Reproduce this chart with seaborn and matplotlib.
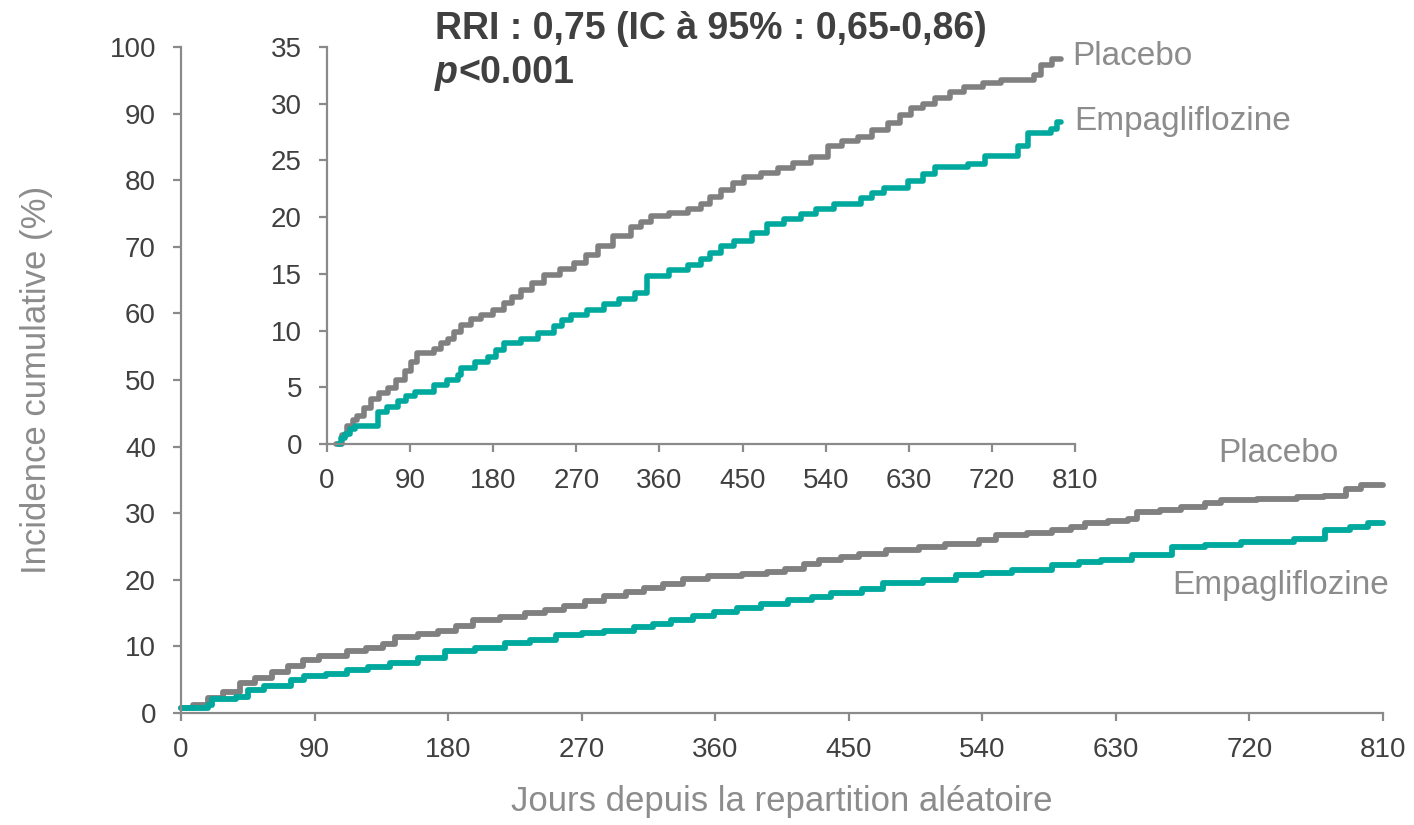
import numpy as np
import pandas as pd
import matplotlib
matplotlib.use("Agg")
import matplotlib.pyplot as plt
import seaborn as sns

# ---------------- data ----------------
main_placebo_days = [0, 8, 18, 28, 40, 50, 61, 72, 82, 93, 112, 125, 136, 144, 160, 173, 185, 197, 215, 232,
                     245, 258, 272, 285, 300, 312, 325, 338, 355, 378, 395, 407, 420, 430, 445, 457, 475, 497,
                     515, 538, 549, 570, 587, 600, 609, 625, 638, 644, 660, 674, 690, 701, 725, 752, 770, 785,
                     795, 810]
main_placebo_vals = [0.7, 1.2, 2.2, 3.2, 4.5, 5.2, 6.1, 7.0, 7.9, 8.6, 9.3, 9.8, 10.3, 11.4, 11.9, 12.3, 13.0,
                     13.9, 14.4, 15.0, 15.5, 16.0, 16.8, 17.6, 18.2, 18.8, 19.3, 20.1, 20.5, 20.9, 21.2, 21.6,
                     22.4, 23.0, 23.4, 23.9, 24.4, 25.0, 25.4, 26.0, 26.7, 27.0, 27.5, 28.0, 28.5, 28.8, 29.2,
                     30.2, 30.5, 30.9, 31.5, 32.0, 32.2, 32.5, 32.6, 33.7, 34.2, 34.2]

main_empa_days = [0, 18, 21, 37, 45, 56, 74, 83, 98, 112, 126, 141, 160, 178, 198, 218, 235, 253, 270, 285,
                  305, 318, 330, 345, 359, 375, 391, 409, 425, 438, 459, 473, 500, 522, 540, 560, 587, 605,
                  620, 641, 668, 690, 714, 750, 771, 788, 800, 810]
main_empa_vals = [0.7, 1.2, 2.1, 2.4, 3.4, 4.1, 5.0, 5.5, 5.9, 6.4, 6.9, 7.5, 8.3, 9.3, 9.8, 10.5, 11.0, 11.7,
                  12.0, 12.3, 12.9, 13.4, 13.9, 14.6, 15.1, 15.7, 16.4, 16.9, 17.4, 18.0, 18.6, 19.5, 20.0,
                  20.7, 21.0, 21.5, 22.2, 22.6, 23.0, 23.7, 25.0, 25.3, 25.7, 26.2, 27.5, 28.0, 28.5, 28.5]

inset_placebo_days = [10, 16, 22, 28, 33, 40, 48, 56, 66, 75, 84, 91, 98, 116, 123, 131, 138, 145, 156, 167,
                      180, 192, 200, 210, 222, 235, 252, 268, 280, 293, 310, 329, 340, 351, 370, 391, 405,
                      415, 427, 440, 452, 470, 488, 505, 524, 542, 558, 575, 590, 607, 620, 632, 645, 658,
                      675, 690, 710, 730, 766, 773, 785, 795]
inset_placebo_vals = [0.0, 0.8, 1.6, 2.1, 2.5, 3.2, 4.0, 4.5, 4.9, 5.6, 6.4, 7.2, 8.0, 8.4, 8.9, 9.3, 9.9,
                      10.5, 11.0, 11.4, 11.8, 12.4, 13.0, 13.6, 14.2, 14.9, 15.4, 16.0, 16.7, 17.5, 18.3,
                      19.1, 19.6, 20.1, 20.4, 20.7, 21.2, 21.8, 22.4, 23.0, 23.5, 23.9, 24.3, 24.8, 25.3,
                      26.3, 26.7, 27.1, 27.7, 28.3, 29.0, 29.6, 30.0, 30.5, 31.0, 31.5, 31.8, 32.1, 32.5,
                      33.4, 33.9, 33.9]

inset_empa_days = [12, 15, 19, 25, 30, 48, 55, 65, 77, 86, 95, 116, 130, 142, 145, 160, 174, 183, 192, 210,
                   228, 246, 255, 264, 282, 300, 316, 333, 347, 370, 391, 405, 415, 427, 441, 460, 477, 495,
                   513, 530, 549, 578, 590, 603, 629, 645, 658, 694, 712, 741, 748, 759, 784, 790, 795]
inset_empa_vals = [0.0, 0.5, 0.9, 1.3, 1.6, 1.6, 2.8, 3.3, 3.8, 4.2, 4.6, 5.2, 5.6, 6.1, 6.7, 7.2, 7.7, 8.3,
                   8.9, 9.3, 9.8, 10.4, 10.9, 11.4, 11.8, 12.3, 12.8, 13.3, 14.8, 15.3, 15.8, 16.3, 16.8,
                   17.5, 17.9, 18.6, 19.4, 19.8, 20.3, 20.7, 21.2, 21.7, 22.1, 22.6, 23.2, 23.8, 24.4, 24.7,
                   25.4, 25.4, 26.3, 27.4, 27.8, 28.4, 28.4]

main_xticks = [0, 90, 180, 270, 360, 450, 540, 630, 720, 810]
main_yticks = [0, 10, 20, 30, 40, 50, 60, 70, 80, 90, 100]
inset_yticks = [0, 5, 10, 15, 20, 25, 30, 35]

series_names = ["Placebo", "Empagliflozine"]
x_label = "Jours depuis la repartition aléatoire"
y_label = "Incidence cumulative (%)"
title_line1 = "RRI : 0,75 (IC à 95% : 0,65-0,86)"
title_p = "p"
title_line2 = "<0.001"

# ---------------- style ----------------
sns.set_theme(style="white")
plt.rcParams["font.family"] = ["Liberation Sans", "DejaVu Sans"]

GRAY_LINE = "#808080"
TEAL = "#00A99D"
SPINE = "#8a8a8a"
TICKTXT = "#404040"
LABELTXT = "#8c8c8c"

fig = plt.figure(figsize=(14.14, 8.25), dpi=100)
fig.patch.set_facecolor("white")

ax = fig.add_axes([181 / 1414, 1 - 713 / 825, (1383 - 181) / 1414, (713 - 47) / 825])
axi = fig.add_axes([327 / 1414, 1 - 444 / 825, (1075 - 327) / 1414, (444 - 47) / 825])
axi.set_zorder(3)

def style_axes(a, xt, yt, xlim, ylim):
    a.set_facecolor("white")
    for s in ["top", "right"]:
        a.spines[s].set_visible(False)
    for s in ["left", "bottom"]:
        a.spines[s].set_color(SPINE)
        a.spines[s].set_linewidth(1.6)
    a.set_xlim(*xlim)
    a.set_ylim(*ylim)
    a.set_xticks(xt)
    a.set_yticks(yt)
    a.set_xticklabels([str(v) for v in xt])
    a.set_yticklabels([str(v) for v in yt])
    a.tick_params(axis="both", which="major", direction="out", length=6, width=1.6,
                  color=SPINE, labelsize=20, labelcolor=TICKTXT, bottom=True, left=True)
    a.tick_params(axis="y", pad=12)
    a.tick_params(axis="x", pad=11)
    a.grid(False)

df_main = pd.concat([
    pd.DataFrame({"day": main_placebo_days, "val": main_placebo_vals, "grp": series_names[0]}),
    pd.DataFrame({"day": main_empa_days, "val": main_empa_vals, "grp": series_names[1]}),
])
df_inset = pd.concat([
    pd.DataFrame({"day": inset_placebo_days, "val": inset_placebo_vals, "grp": series_names[0]}),
    pd.DataFrame({"day": inset_empa_days, "val": inset_empa_vals, "grp": series_names[1]}),
])
palette = {series_names[0]: GRAY_LINE, series_names[1]: TEAL}

sns.lineplot(data=df_main, x="day", y="val", hue="grp", palette=palette, estimator=None,
             drawstyle="steps-post", linewidth=4.2, ax=ax, legend=False, clip_on=False)
sns.lineplot(data=df_inset, x="day", y="val", hue="grp", palette=palette, estimator=None,
             drawstyle="steps-post", linewidth=4.0, ax=axi, legend=False, clip_on=False)

style_axes(ax, main_xticks, main_yticks, (0, 810), (0, 100))
style_axes(axi, main_xticks, inset_yticks, (0, 810), (0, 35))

ax.set_xlabel(x_label, fontsize=25, color=LABELTXT, labelpad=16)
ax.set_ylabel(y_label, fontsize=25, color=LABELTXT, labelpad=41)
axi.set_xlabel("")
axi.set_ylabel("")

# series labels
ax.text(699, 39.0, series_names[0], fontsize=24, color=LABELTXT, va="center", ha="left")
ax.text(668, 19.1, series_names[1], fontsize=24, color=LABELTXT, va="center", ha="left")
axi.text(807, 34.2, series_names[0], fontsize=24, color=LABELTXT, va="center", ha="left", clip_on=False)
axi.text(809, 28.4, series_names[1], fontsize=24, color=LABELTXT, va="center", ha="left", clip_on=False)

# annotation
fig.text(435 / 1414, 1 - 29 / 825, title_line1, fontsize=27, fontweight="bold", color=TICKTXT,
         va="center", ha="left", zorder=5)
tp = fig.text(435 / 1414, 1 - 73 / 825, title_p, fontsize=27, fontweight="bold", style="italic",
              color=TICKTXT, va="center", ha="left", zorder=5)
axi.annotate(title_line2, xy=(1, 0.5), xycoords=tp, xytext=(0.5, 0), textcoords="offset points",
             fontsize=27, fontweight="bold", color=TICKTXT, va="center", ha="left",
             annotation_clip=False)

fig.savefig("out.png", dpi=100, facecolor="white")
